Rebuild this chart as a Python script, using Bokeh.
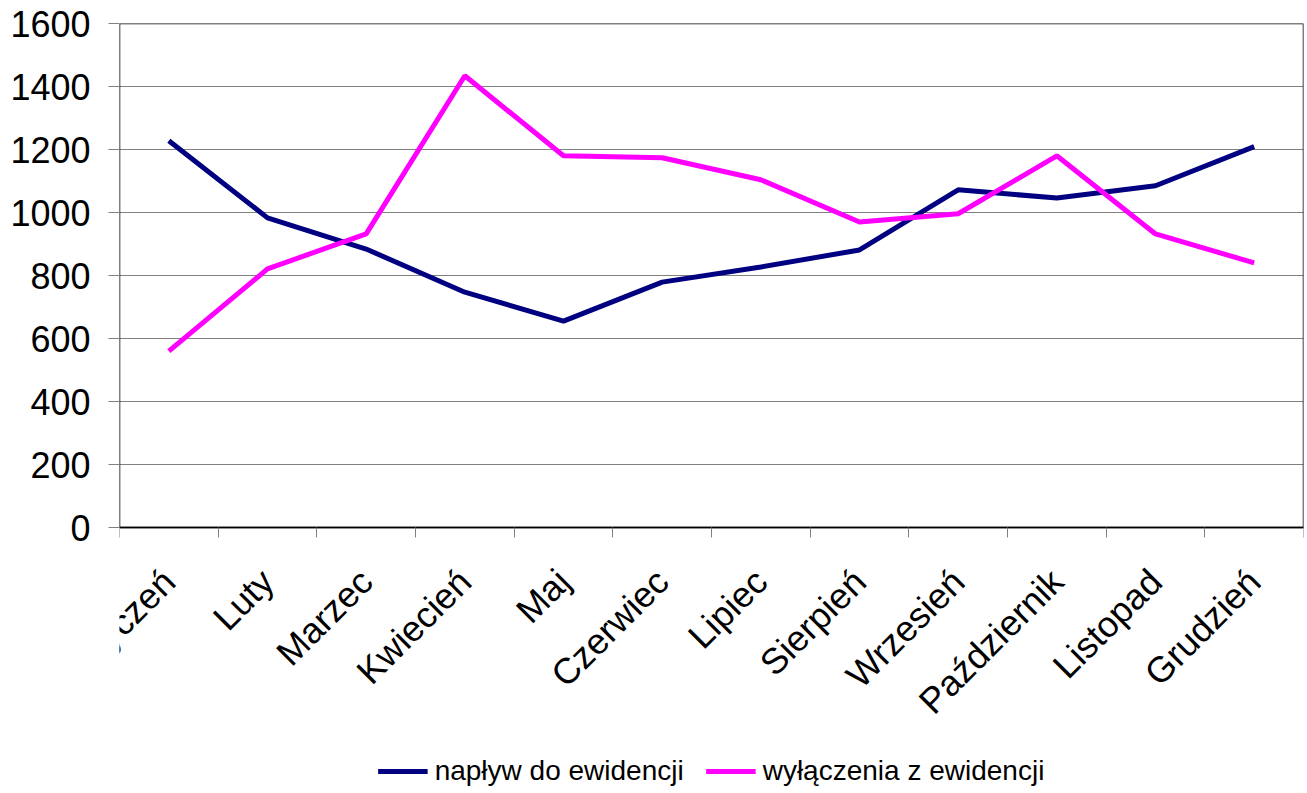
import numpy as np
from bokeh.plotting import figure
from bokeh.models import FixedTicker, Legend, LegendItem, Range1d
from bokeh.embed import file_html
from bokeh.resources import INLINE

months = ["Styczeń", "Luty", "Marzec", "Kwiecień", "Maj", "Czerwiec", "Lipiec",
          "Sierpień", "Wrzesień", "Październik", "Listopad", "Grudzień"]
naplyw = [1228, 983, 884, 747, 655, 779, 827, 881, 1072, 1046, 1085, 1209]
wylaczenia = [560, 821, 932, 1434, 1180, 1174, 1104, 970, 996, 1180, 932, 840]
y_ticks = [0, 200, 400, 600, 800, 1000, 1200, 1400, 1600]
series_names = ["napływ do ewidencji", "wyłączenia z ewidencji"]

FONT = "Liberation Sans"

# layout (pixels)
W, H = 1307, 793
FRAME_LEFT, FRAME_TOP, BORDER_RIGHT, BORDER_BOTTOM = 119, 23, 4, 2
ZERO_Y = 527  # pixel row of the value 0

n = len(months)
xs = np.arange(n) + 0.5

# the frame reaches down to the legend; the value axis starts at ZERO_Y
px_per_unit = (ZERO_Y - FRAME_TOP) / (y_ticks[-1] - y_ticks[0])
y_bottom = y_ticks[0] - (H - BORDER_BOTTOM - ZERO_Y) / px_per_unit

p = figure(width=W, height=H, output_backend="svg", toolbar_location=None,
           x_range=Range1d(0, n), y_range=Range1d(y_bottom, y_ticks[-1]),
           min_border_left=FRAME_LEFT, min_border_top=FRAME_TOP,
           min_border_right=BORDER_RIGHT, min_border_bottom=BORDER_BOTTOM)
p.background_fill_color = "white"
p.border_fill_color = "white"
p.outline_line_color = None

# chart box
p.quad(left=[0], right=[n], bottom=[y_ticks[0]], top=[y_ticks[-1]],
       fill_color=None, line_color="black", line_width=1.5)

r1 = p.line(xs, naplyw, line_color="#000080", line_width=5)
r2 = p.line(xs, wylaczenia, line_color="#FF00FF", line_width=5)

# x axis: fixed at value 0, labels at centres, tick marks at category boundaries
p.xaxis.fixed_location = y_ticks[0]
p.xaxis.ticker = FixedTicker(ticks=list(xs), minor_ticks=list(range(n + 1)))
p.xaxis.major_label_overrides = {float(x): m for x, m in zip(xs, months)}
p.xaxis.major_label_orientation = np.pi / 4
p.xaxis.major_tick_line_color = None
p.xaxis.minor_tick_out = 10
p.xaxis.minor_tick_in = 0
p.xaxis.minor_tick_line_color = "#808080"
p.xaxis.axis_line_color = "black"
p.xaxis.axis_line_width = 1.5
p.xaxis.major_label_text_font = FONT
p.xaxis.major_label_text_font_size = "36px"
p.xaxis.major_label_text_color = "black"
p.xaxis.major_label_standoff = 38
p.xgrid.grid_line_color = None

p.yaxis.ticker = FixedTicker(ticks=y_ticks)
p.yaxis.major_tick_out = 11
p.yaxis.major_tick_in = 0
p.yaxis.major_tick_line_color = "#808080"
p.yaxis.minor_tick_line_color = None
p.yaxis.axis_line_color = None
p.yaxis.major_label_text_font = FONT
p.yaxis.major_label_text_font_size = "36px"
p.yaxis.major_label_text_color = "black"
p.yaxis.major_label_standoff = 18
p.ygrid.grid_line_color = "#808080"
p.ygrid.grid_line_width = 1

legend = Legend(items=[LegendItem(label=series_names[0], renderers=[r1]),
                       LegendItem(label=series_names[1], renderers=[r2])],
                orientation="horizontal", location="bottom_center")
legend.label_text_font = FONT
legend.label_text_font_size = "28px"
legend.label_text_color = "black"
legend.label_height = 28
legend.glyph_height = 28
legend.glyph_width = 50
legend.label_standoff = 7
legend.spacing = 22
legend.margin = 4
legend.padding = 0
legend.border_line_color = None
legend.background_fill_alpha = 0
p.add_layout(legend, "center")

open("out.html", "w").write(file_html(p, INLINE))
